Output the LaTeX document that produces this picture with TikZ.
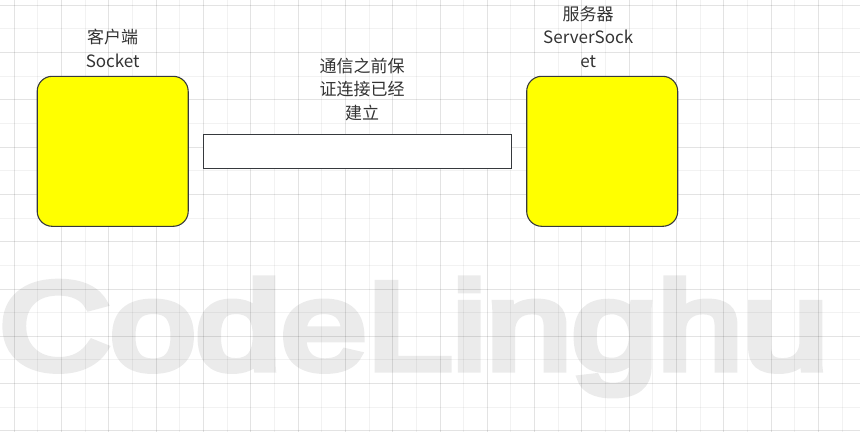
\documentclass[tikz,border=0pt]{standalone}
\usepackage{fontspec}
\setmainfont{Noto Sans CJK SC}
\newfontfamily\markfont{Liberation Sans}[FakeBold=6]
\usepackage{xcolor}
\usetikzlibrary{positioning}
\definecolor{sockyellow}{HTML}{FFFF00}
\definecolor{linegray}{HTML}{36393D}
\definecolor{textgray}{HTML}{333333}
\definecolor{markgray}{HTML}{EBEBEB}
\tikzset{
    sock box/.style={
        draw=linegray,
        line width=1.1pt,
        rounded corners=15pt,
        fill=sockyellow,
        minimum width=151pt,
        minimum height=150pt,
        inner sep=0pt
    },
    pipe box/.style={sock box, rounded corners=0pt, fill=white, minimum width=308pt, minimum height=34pt},
    sock label/.style={font=\fontsize{17}{23.5}\selectfont, text=textgray, align=center, inner sep=0pt},
    mark text/.style={font=\markfont\fontsize{124}{126}\selectfont, text=markgray, inner sep=0pt},
    grid minor/.style={draw=black, draw opacity=0.05, line width=1pt},
    grid major/.style={draw=black, draw opacity=0.11, line width=1pt}
}

\begin{document}
\begin{tikzpicture}[x=1pt, y=-1pt]
\useasboundingbox (0,0) rectangle (860,432);
% watermark
\node[mark text, anchor=base west] (mark) at (-1,369) {\scalebox{1.24}[1]{CodeLinghu}};

% background grid
\foreach \i in {1,3,...,35} \draw[grid minor] ({14.3+23.65*\i},0) -- ++(0,432);
\foreach \j in {1,3,...,17} \draw[grid minor] (0,{5.2+23.65*\j}) -- ++(860,0);
\foreach \i in {0,2,...,34} \draw[grid major] ({14.3+23.65*\i},0) -- ++(0,432);
\foreach \j in {0,2,...,18} \draw[grid major] (0,{5.2+23.65*\j}) -- ++(860,0);

% client side
\node[sock box] (client) at (112.7,151.3) {};
\node[sock label, above=8pt of client] (client label) {客户端\\Socket};

% server side
\node[sock box] (server) at (602.2,151.3) {};
\node[sock label, above=8pt of server, xshift=-14pt] (server label) {服务器\\ServerSock\\et};

% connection in between
\node[pipe box] (pipe) at (357.5,151.2) {};
\node[sock label, above=13pt of pipe, xshift=4.5pt] (pipe label) {通信之前保\\证连接已经\\建立};
\end{tikzpicture}
\end{document}
